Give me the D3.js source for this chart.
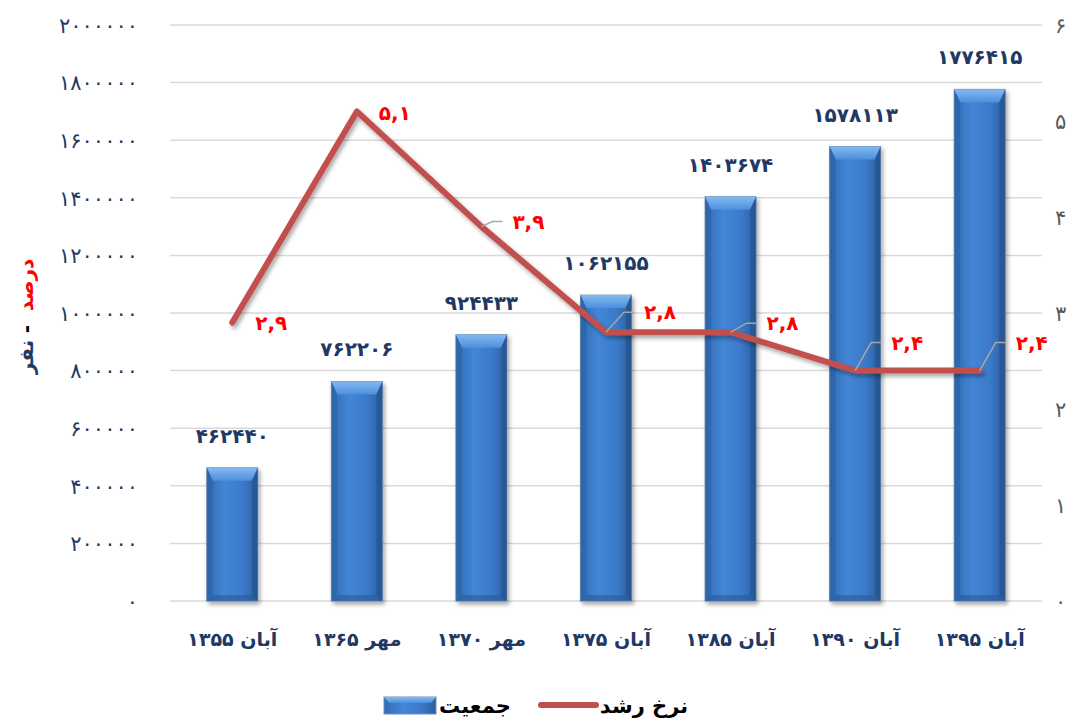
<!DOCTYPE html>
<meta charset="utf-8">
<style>
body{ margin:0; background:white; font-family:"DejaVu Sans", sans-serif; }
text{ font-family:"DejaVu Sans", sans-serif; }
</style>
<body>
<svg id="chart" width="1081" height="722"></svg>
<script src="https://cdn.jsdelivr.net/npm/d3@7"></script>
<script>

var categories = ["آبان ۱۳۵۵", "مهر ۱۳۶۵", "مهر ۱۳۷۰", "آبان ۱۳۷۵", "آبان ۱۳۸۵", "آبان ۱۳۹۰", "آبان ۱۳۹۵"]
var population = [462440, 762206, 924433, 1062155, 1403674, 1578113, 1776415]
var growth = [2.9, 5.1, 3.9, 2.8, 2.8, 2.4, 2.4]
var leftTicks = [0, 200000, 400000, 600000, 800000, 1000000, 1200000, 1400000, 1600000, 1800000, 2000000]
var rightTicks = [0, 1, 2, 3, 4, 5, 6]

// label placement for the growth values: dx, dy from point, and whether a leader line is drawn
var rateLabelPos = [
  {dx: 39, dy: 0, leader: false},
  {dx: 38, dy: 2, leader: false},
  {dx: 47, dy: -5, leader: true},
  {dx: 54, dy: -20, leader: true},
  {dx: 52, dy: -9, leader: true},
  {dx: 52, dy: -28, leader: true},
  {dx: 52, dy: -28, leader: true}
]

var fa = function(s){ return String(s).replace(/\d/g, function(d){ return "۰۱۲۳۴۵۶۷۸۹"[d] }) }
var faDec = function(v){ return fa(v.toFixed(1)).replace(".", ",") }

var margin = {left: 170, right: 1042, top: 25, bottom: 601}
var svg = d3.select('#chart')
var navy = '#1f3864'

var x = d3.scaleBand().domain(categories).range([margin.left, margin.right])
var yL = d3.scaleLinear().domain([0, 2000000]).range([margin.bottom, margin.top])
var yR = d3.scaleLinear().domain([0, 6]).range([margin.bottom, margin.top])

var defs = svg.append('defs')
var g1 = defs.append('linearGradient').attr('id', 'barGrad').attr('x1', 0).attr('x2', 1).attr('y1', 0).attr('y2', 0)
g1.append('stop').attr('offset', '0%').attr('stop-color', '#2f6bb3')
g1.append('stop').attr('offset', '35%').attr('stop-color', '#4386d6')
g1.append('stop').attr('offset', '70%').attr('stop-color', '#3b7aca')
g1.append('stop').attr('offset', '100%').attr('stop-color', '#2b5f9f')
var g2 = defs.append('linearGradient').attr('id', 'barTop').attr('x1', 0).attr('x2', 0).attr('y1', 0).attr('y2', 1)
g2.append('stop').attr('offset', '0%').attr('stop-color', '#85baf2')
g2.append('stop').attr('offset', '100%').attr('stop-color', '#4b8fdc')
var sh = defs.append('filter').attr('id', 'shadow').attr('x', '-20%').attr('y', '-20%').attr('width', '140%').attr('height', '140%')
sh.append('feDropShadow').attr('dx', 2).attr('dy', 3).attr('stdDeviation', 2).attr('flood-color', '#000').attr('flood-opacity', 0.35)

// gridlines
svg.append('g').selectAll('line').data(leftTicks).join('line')
    .attr('x1', margin.left).attr('x2', margin.right)
    .attr('y1', function(d){ return yL(d) }).attr('y2', function(d){ return yL(d) })
    .style('stroke', '#d9d9d9').style('stroke-width', 1.5)

// left axis
var axL = svg.append('g').attr('transform', 'translate(' + (margin.left - 32) + ',0)')
    .call(d3.axisLeft(yL).tickValues(leftTicks).tickSize(0).tickPadding(0).tickFormat(fa))
axL.select('.domain').remove()
axL.selectAll('text').style('font-size', '21px').style('letter-spacing', '1.5px').style('fill', navy).attr('dy', '0.35em')

// right axis
var axR = svg.append('g').attr('transform', 'translate(' + (margin.right + 13) + ',0)')
    .call(d3.axisRight(yR).tickValues(rightTicks).tickSize(0).tickPadding(0).tickFormat(fa))
axR.select('.domain').remove()
axR.selectAll('text').style('font-size', '21px').style('fill', '#595959').attr('dy', '0.35em')

// x axis labels
var axX = svg.append('g').attr('transform', 'translate(0,' + (margin.bottom + 38) + ')')
    .call(d3.axisBottom(x).tickSize(0).tickPadding(0))
axX.select('.domain').remove()
axX.selectAll('text').style('font-size', '19px').style('font-weight', 'bold').style('fill', navy)
    .attr('direction', 'rtl').attr('dy', '0.35em')

// bars
var bw = 51, bev = 13, side = 6
var bars = svg.append('g').selectAll('g').data(population).join('g')
    .attr('transform', function(d, i){ return 'translate(' + (x(categories[i]) + x.bandwidth() / 2 - bw / 2) + ',' + yL(d) + ')' })
bars.append('rect')
    .attr('width', bw).attr('height', function(d){ return yL(0) - yL(d) })
    .style('fill', 'url(#barGrad)').style('stroke', '#6f8fb5').style('stroke-width', 1)
    .attr('filter', 'url(#shadow)')
bars.append('path')
    .attr('d', 'M0,0 L' + bw + ',0 L' + (bw - side) + ',' + bev + ' L' + side + ',' + bev + ' Z')
    .style('fill', 'url(#barTop)')
bars.append('path')
    .attr('d', function(d){ var h = yL(0) - yL(d); return 'M0,' + h + ' L' + bw + ',' + h + ' L' + (bw - side) + ',' + (h - 6) + ' L' + side + ',' + (h - 6) + ' Z' })
    .style('fill', '#2a5c99').style('opacity', 0.6)
bars.append('path')
    .attr('d', function(d){ var h = yL(0) - yL(d); return 'M0,0 L' + side + ',' + bev + ' L' + side + ',' + (h - 6) + ' L0,' + h + ' Z' })
    .style('fill', '#2a5e9e').style('opacity', 0.5)
bars.append('path')
    .attr('d', function(d){ var h = yL(0) - yL(d); return 'M' + bw + ',0 L' + (bw - side) + ',' + bev + ' L' + (bw - side) + ',' + (h - 6) + ' L' + bw + ',' + h + ' Z' })
    .style('fill', '#244f86').style('opacity', 0.55)

// bar value labels
svg.append('g').selectAll('text').data(population).join('text')
    .attr('x', function(d, i){ return x(categories[i]) + x.bandwidth() / 2 })
    .attr('y', function(d){ return yL(d) - 32 })
    .attr('dy', '0.35em').attr('text-anchor', 'middle')
    .style('font-size', '20px').style('font-weight', 'bold').style('fill', navy)
    .text(function(d){ return fa(d) })

// growth line
var cx = function(i){ return x(categories[i]) + x.bandwidth() / 2 }
var line = d3.line().x(function(d, i){ return cx(i) }).y(function(d){ return yR(d) })
svg.append('path').datum(growth).attr('d', line)
    .style('fill', 'none').style('stroke', '#c0504d').style('stroke-width', 6)
    .style('stroke-linejoin', 'round').style('stroke-linecap', 'round')
    .attr('filter', 'url(#shadow)')

// leader lines and rate labels
growth.forEach(function(v, i){
  var p = rateLabelPos[i], px = cx(i), py = yR(v)
  var lx = px + p.dx, ly = py + p.dy
  if (p.leader) {
    var ex = lx - 26
    svg.append('polyline')
        .attr('points', [[px, py], [ex - 10, ly], [ex, ly]].map(function(q){ return q.join(',') }).join(' '))
        .style('fill', 'none').style('stroke', '#a6a6a6').style('stroke-width', 1.5)
  }
  svg.append('text').attr('x', lx).attr('y', ly).attr('dy', '0.35em')
      .attr('text-anchor', 'middle')
      .style('font-size', '20px').style('font-weight', 'bold').style('fill', '#ff0000')
      .text(faDec(v))
})

// y title
var yt = [
  {t: 'درصد', y: 285, c: '#ff0000'},
  {t: '-', y: 329, c: '#000'},
  {t: 'نفر', y: 357, c: navy}
]
svg.append('g').selectAll('text').data(yt).join('text')
    .attr('transform', function(d){ return 'translate(26,' + d.y + ') rotate(-90)' })
    .attr('dy', '0.35em').attr('text-anchor', 'middle')
    .style('font-size', '20px').style('font-weight', 'bold').style('fill', function(d){ return d.c })
    .text(function(d){ return d.t })

// legend
var lg = svg.append('g')
lg.append('rect').attr('x', 384).attr('y', 697).attr('width', 52).attr('height', 17)
    .style('fill', 'url(#barGrad)').style('stroke', '#6f8fb5')
lg.append('path').attr('d', 'M384,697 L436,697 L431,703 L389,703 Z').style('fill', 'url(#barTop)')
lg.append('text').attr('x', 475).attr('y', 706).attr('dy', '0.35em').attr('text-anchor', 'middle')
    .style('font-size', '21px').style('font-weight', 'bold').text('جمعیت')
lg.append('line').attr('x1', 541).attr('x2', 596).attr('y1', 705).attr('y2', 705)
    .style('stroke', '#c0504d').style('stroke-width', 6).style('stroke-linecap', 'round')
lg.append('text').attr('x', 644).attr('y', 706).attr('dy', '0.35em').attr('text-anchor', 'middle')
    .attr('direction', 'rtl')
    .style('font-size', '21px').style('font-weight', 'bold').text('نرخ رشد')

</script>
</body>
